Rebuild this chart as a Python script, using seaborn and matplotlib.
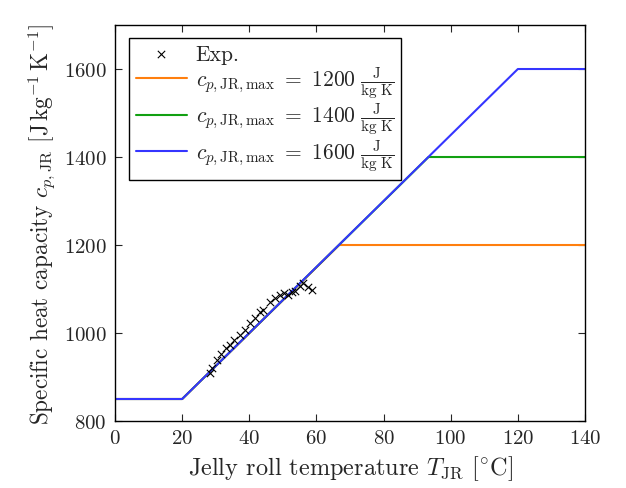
import matplotlib
matplotlib.use("Agg")
import matplotlib.pyplot as plt
import seaborn as sns
import pandas as pd

# Measured specific heat capacity of the jelly roll
exp_T = [28.3, 29.0, 30.3, 31.6, 33.0, 34.3, 35.5, 37.2, 38.7, 40.2, 41.7, 43.2,
         44.2, 46.2, 47.7, 49.2, 50.4, 51.6, 52.6, 53.6, 55.1, 56.1, 57.6, 58.6]
exp_cp = [909, 920, 939, 952, 965, 973, 985, 995, 1007, 1023, 1033, 1047,
          1053, 1070, 1079, 1086, 1091, 1086, 1094, 1096, 1107, 1114, 1104, 1098]

# Piecewise-linear model breakpoints for each capped variant
model_T_1200 = [0, 20, 66.8, 140]
model_cp_1200 = [850, 850, 1200, 1200]
model_T_1400 = [0, 20, 93.4, 140]
model_cp_1400 = [850, 850, 1400, 1400]
model_T_1600 = [0, 20, 120, 140]
model_cp_1600 = [850, 850, 1600, 1600]

x_ticks = [0, 20, 40, 60, 80, 100, 120, 140]
y_ticks = [800, 1000, 1200, 1400, 1600]

sns.set_style("ticks")
plt.rcParams["font.family"] = "serif"
plt.rcParams["font.serif"] = ["cmr10"]
plt.rcParams["mathtext.fontset"] = "cm"
plt.rcParams["axes.unicode_minus"] = False
plt.rcParams["axes.formatter.use_mathtext"] = True

fig = plt.figure(figsize=(6.26, 4.89), dpi=100)
ax = fig.add_axes([0.1837, 0.137, 0.7508, 0.8098])

sns.scatterplot(x=exp_T, y=exp_cp, ax=ax, marker="x", color="black",
                s=28, linewidth=0.8, label="Exp.", zorder=5)

def unit_label(v):
    return (r"$c_{p,\mathrm{JR,max}}\ =\ " + str(v) +
            r"\ \frac{\mathrm{J}}{\mathrm{kg\ K}}$")

curves = [
    (model_T_1200, model_cp_1200, "#ff7f0e", 1200),
    (model_T_1400, model_cp_1400, "#12a012", 1400),
    (model_T_1600, model_cp_1600, "#3535ff", 1600),
]
for T, cp, col, cap in curves:
    df = pd.DataFrame({"T": T, "cp": cp})
    sns.lineplot(data=df, x="T", y="cp", ax=ax, color=col, linewidth=1.5,
                 label=unit_label(cap), sort=False)

ax.set_xlim(0, 140)
ax.set_ylim(800, 1700)
ax.set_xticks(x_ticks)
ax.set_yticks(y_ticks)
ax.tick_params(direction="in", top=True, right=True, labelsize=15,
               length=5, width=0.8, pad=6)
for sp in ax.spines.values():
    sp.set_linewidth(1.0)
    sp.set_color("black")

ax.set_xlabel(r"Jelly roll temperature $T_{\mathrm{JR}}$ [$^{\circ}$C]", fontsize=17.5)
ax.set_ylabel(r"Specific heat capacity $c_{p,\mathrm{JR}}$ [J$\,$kg$^{-1}\,$K$^{-1}$]",
              fontsize=16.7)

leg = ax.legend(loc="upper left", bbox_to_anchor=(0.03, 0.967), borderaxespad=0,
                fontsize=15.5, frameon=True, fancybox=False, handlelength=2.4,
                labelspacing=0.0, borderpad=0.3, handletextpad=0.4)
leg.get_frame().set_edgecolor("black")
leg.get_frame().set_linewidth(1.0)
leg.get_frame().set_alpha(1)

fig.savefig("out.png", dpi=100)
